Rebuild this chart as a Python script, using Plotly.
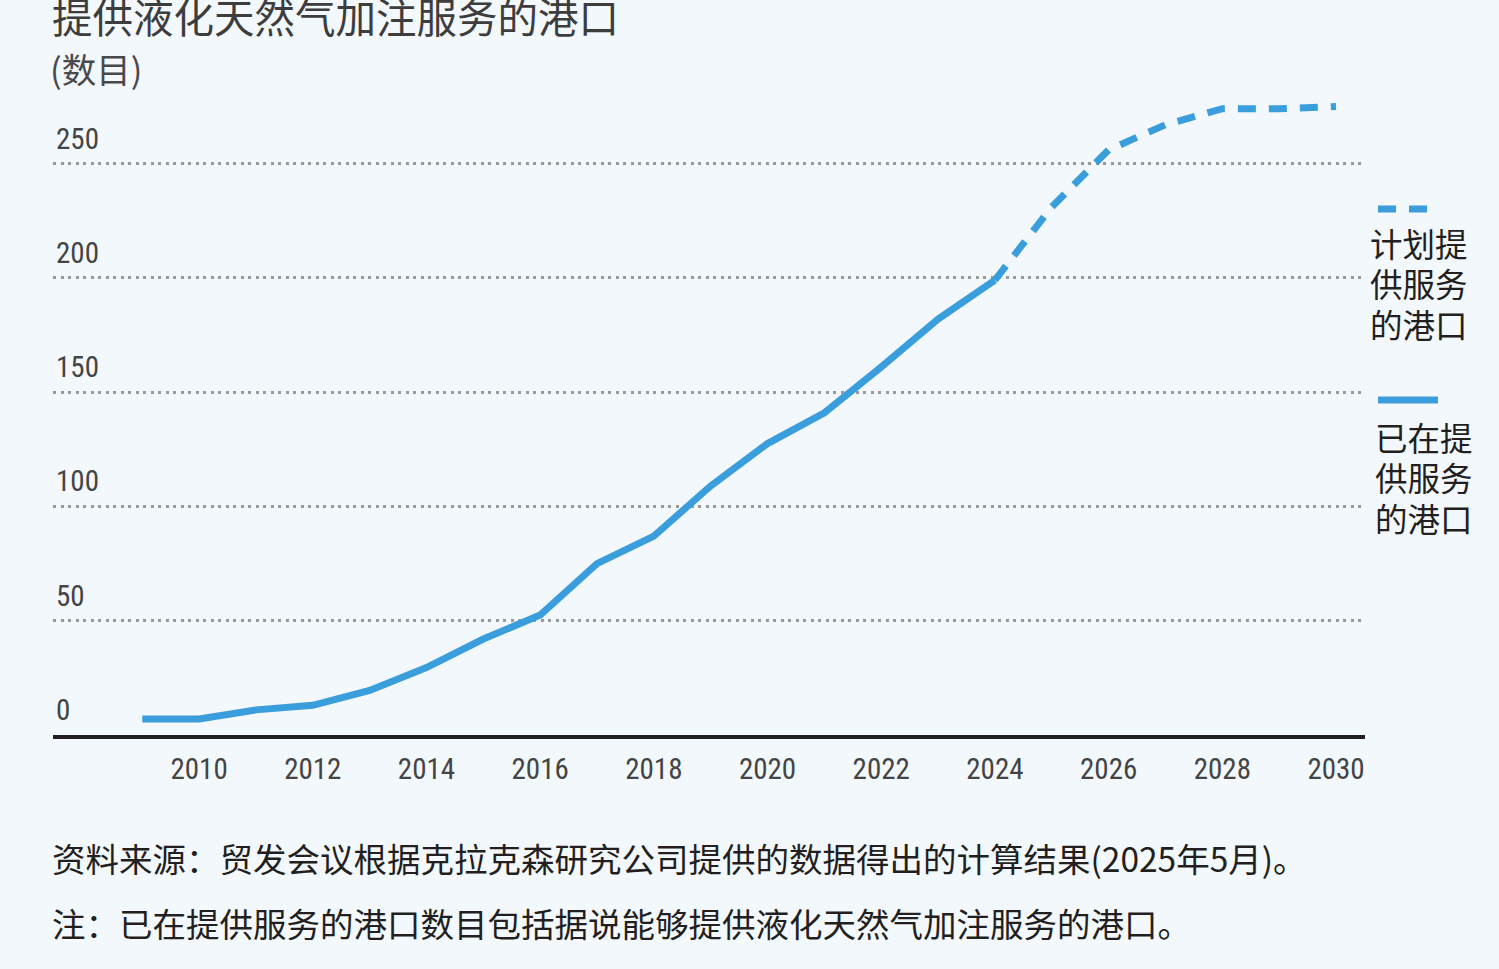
import plotly.graph_objects as go

# ---- data ----
years_actual = [2009, 2010, 2011, 2012, 2013, 2014, 2015, 2016, 2017, 2018,
                2019, 2020, 2021, 2022, 2023, 2024]
ports_actual = [7, 7, 11, 13, 19.5, 29.5, 42, 52.5, 75, 87,
                109, 127.5, 141, 161, 182, 199]
years_planned = [2024, 2025, 2026, 2027, 2028, 2029, 2030]
ports_planned = [199, 231, 256, 267, 274, 274, 275]
y_ticks = [0, 50, 100, 150, 200, 250]
x_ticks = list(range(2010, 2031, 2))

title_text = "提供液化天然气加注服务的港口"
subtitle_text = "(数目)"
legend_planned = ["计划提", "供服务", "的港口"]
legend_actual = ["已在提", "供服务", "的港口"]
source_text = "资料来源：贸发会议根据克拉克森研究公司提供的数据得出的计算结果(2025年5月)。"
note_text = "注：已在提供服务的港口数目包括据说能够提供液化天然气加注服务的港口。"

# ---- style ----
BG = "#f3f8fd"
BLUE = "#3a9edd"
TXT = "#444444"
DARK = "#231f20"
NUM_FONT = "Liberation Sans Narrow, Roboto Condensed, Roboto, sans-serif"
CJK_FONT = "Noto Sans CJK SC, sans-serif"

W, H = 1499, 969
L, R, T, B = 53, 134, 95, 234
PW = W - L - R
PH = H - T - B


def px_x(px):
    return (px - L) / PW


def px_y(py):
    return (H - B - py) / PH


fig = go.Figure()
fig.add_trace(go.Scatter(x=years_actual, y=ports_actual, mode="lines",
                         line=dict(color=BLUE, width=7), hoverinfo="x+y",
                         showlegend=False))
fig.add_trace(go.Scatter(x=years_planned, y=ports_planned, mode="lines",
                         line=dict(color=BLUE, width=7, dash="18px,13px"),
                         hoverinfo="x+y", showlegend=False))

annotations = []
# y tick labels placed above gridlines
for v in y_ticks:
    annotations.append(dict(x=0, xref="paper", y=v, yref="y", text=str(v),
                            showarrow=False, xanchor="left", yanchor="bottom",
                            xshift=1, yshift=6,
                            font=dict(family=NUM_FONT, size=29, color=TXT)))
# title & subtitle
annotations.append(dict(x=px_x(50), xref="paper", y=px_y(16), yref="paper",
                        text=title_text, showarrow=False, xanchor="left",
                        yanchor="middle",
                        font=dict(family=CJK_FONT, size=40.5, color="#3d3d3d")))
annotations.append(dict(x=px_x(48), xref="paper", y=px_y(68), yref="paper",
                        text=subtitle_text, showarrow=False, xanchor="left",
                        yanchor="middle",
                        font=dict(family=CJK_FONT, size=34.5, color="#4a4a4a")))
# legend texts (one annotation per line)
for i, line in enumerate(legend_planned):
    annotations.append(dict(x=px_x(1369), xref="paper",
                            y=px_y(242 + 40.5 * i), yref="paper",
                            text=line, showarrow=False, xanchor="left",
                            yanchor="middle", borderpad=0,
                            font=dict(family=CJK_FONT, size=32.5, color=DARK)))
for i, line in enumerate(legend_actual):
    annotations.append(dict(x=px_x(1374), xref="paper",
                            y=px_y(436 + 40.5 * i), yref="paper",
                            text=line, showarrow=False, xanchor="left",
                            yanchor="middle", borderpad=0,
                            font=dict(family=CJK_FONT, size=32.5, color=DARK)))
# footnotes
annotations.append(dict(x=px_x(50), xref="paper", y=px_y(857), yref="paper",
                        text=source_text, showarrow=False, xanchor="left",
                        yanchor="middle",
                        font=dict(family=CJK_FONT, size=33.5, color=DARK)))
annotations.append(dict(x=px_x(50), xref="paper", y=px_y(922), yref="paper",
                        text=note_text, showarrow=False, xanchor="left",
                        yanchor="middle",
                        font=dict(family=CJK_FONT, size=33.5, color=DARK)))

shapes = [
    dict(type="line", xref="paper", yref="paper",
         x0=px_x(1378), x1=px_x(1428), y0=px_y(209), y1=px_y(209),
         line=dict(color=BLUE, width=7, dash="18px,13px")),
    dict(type="line", xref="paper", yref="paper",
         x0=px_x(1378), x1=px_x(1438), y0=px_y(400), y1=px_y(400),
         line=dict(color=BLUE, width=7)),
]

fig.update_layout(
    width=W, height=H,
    margin=dict(l=L, r=R, t=T, b=B, pad=0),
    paper_bgcolor=BG, plot_bgcolor=BG,
    showlegend=False,
    annotations=annotations,
    shapes=shapes,
    xaxis=dict(range=[2007.43, 2030.51], tickvals=x_ticks,
               ticktext=[str(v) for v in x_ticks],
               showgrid=False, zeroline=False,
               showline=True, linecolor=DARK, linewidth=4,
               ticks="outside", ticklen=5, tickcolor="rgba(0,0,0,0)",
               tickfont=dict(family=NUM_FONT, size=29, color=TXT),
               fixedrange=True),
    yaxis=dict(range=[0, 280], tickvals=y_ticks[1:], showticklabels=False,
               showgrid=True, gridcolor="#9a9a9a", gridwidth=2.5,
               griddash="3px,4.5px", zeroline=False, showline=False,
               fixedrange=True),
)

fig.write_html("out.html")
